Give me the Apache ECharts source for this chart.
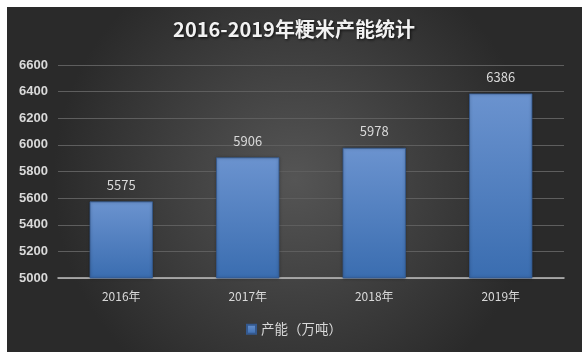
<!DOCTYPE html>
<html><head><meta charset="utf-8">
<script src="https://cdn.jsdelivr.net/npm/echarts@6/dist/echarts.min.js"></script>
<style>html,body{margin:0;padding:0;background:#fff}#c{width:588px;height:358px}</style>
</head><body><div id="c"></div>
<script>
const categories = ['2016年','2017年','2018年','2019年'];
const values = [5575, 5906, 5978, 6386];
const seriesName = '产能（万吨）';
const titleText = '2016-2019年粳米产能统计';
const yMin = 5000, yMax = 6600, yStep = 200;

const chart = echarts.init(document.getElementById('c'), null, {renderer:'canvas'});
const font = '"Noto Sans CJK SC", "Liberation Sans", sans-serif';
chart.setOption({
  backgroundColor: '#ffffff',
  animation: false,
  graphic: [{
    type: 'rect', z: -10, silent: true,
    shape: {x: 7, y: 7, width: 575, height: 345},
    style: {
      fill: new echarts.graphic.RadialGradient(0.5, 0.5, 0.7, [
        {offset: 0, color: '#555555'},
        {offset: 1, color: '#2a2a2a'}
      ])
    }
  }],
  title: {
    text: titleText, left: 'center', top: 14,
    textStyle: {color: '#f2f2f2', fontSize: 20, fontWeight: 'bold', fontFamily: font,
      textShadowColor: 'rgba(0,0,0,0.8)', textShadowBlur: 3, textShadowOffsetX: 1, textShadowOffsetY: 1}
  },
  legend: {
    bottom: 17, left: 'center', itemWidth: 9, itemHeight: 9, icon: 'rect', itemGap: 5,
    textStyle: {color: '#d9d9d9', fontSize: 13.5, fontFamily: font},
    data: [seriesName]
  },
  grid: {left: 58, right: 24, top: 65, bottom: 80},
  xAxis: {
    type: 'category', data: categories,
    axisLine: {lineStyle: {color: '#bfbfbf', width: 1.5}},
    axisTick: {show: false},
    axisLabel: {color: '#d9d9d9', fontSize: 12, margin: 12, fontFamily: font}
  },
  yAxis: {
    type: 'value', min: yMin, max: yMax, interval: yStep,
    axisLine: {show: false}, axisTick: {show: false},
    axisLabel: {color: '#d9d9d9', fontSize: 13, margin: 10, fontWeight: 'bold',
      fontFamily: '"Liberation Sans", sans-serif', formatter: v => String(v)},
    splitLine: {lineStyle: {color: '#5e5e5e', width: 1}}
  },
  series: [{
    name: seriesName, type: 'bar', data: values, barWidth: '50%',
    itemStyle: {
      color: new echarts.graphic.LinearGradient(0, 0, 0, 1, [
        {offset: 0, color: '#6b93cf'},
        {offset: 1, color: '#3a6db0'}
      ]),
      borderColor: '#34598f', borderWidth: 0.8,
      shadowColor: 'rgba(0,0,0,0.4)', shadowBlur: 3
    },
    label: {show: true, position: 'top', distance: 10, color: '#d9d9d9', fontSize: 13, fontFamily: font}
  }]
});
</script></body></html>
